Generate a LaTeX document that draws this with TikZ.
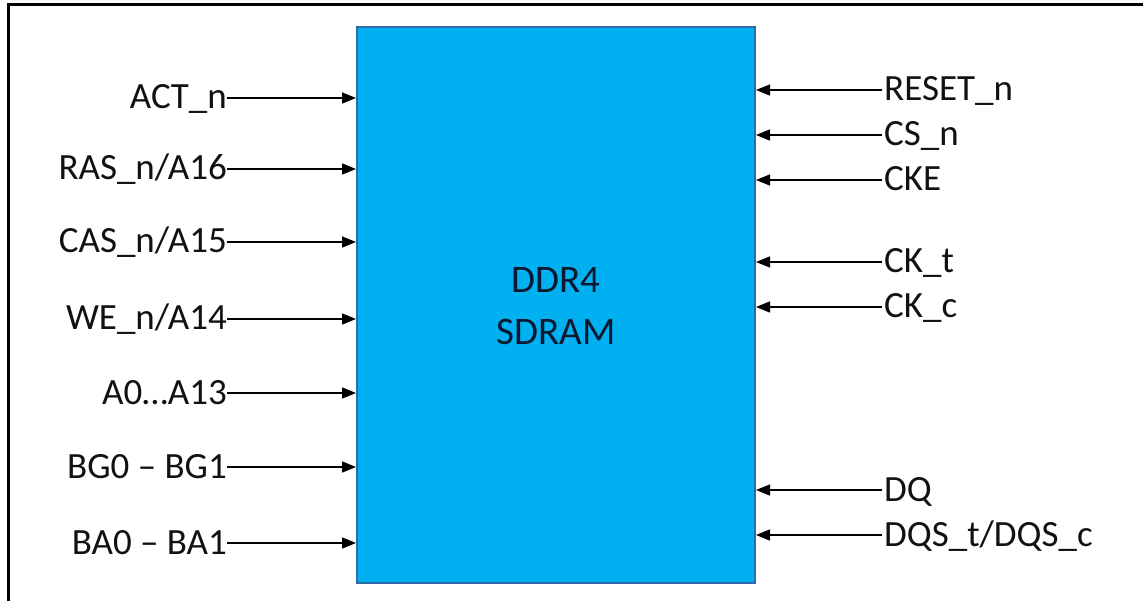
\documentclass[tikz,border=0pt]{standalone}
\usepackage{fontspec}
\setmainfont{Carlito}
\usetikzlibrary{arrows.meta}
\definecolor{chipfill}{HTML}{00B0F0}
\definecolor{chipedge}{HTML}{2E6AA8}
\definecolor{chiptext}{HTML}{0B1830}
\definecolor{lbltext}{HTML}{111111}
\tikzset{
  sig/.style={line width=1.5pt, -{Triangle[length=14pt,width=11pt]}},
  lblL/.style={inner sep=0pt, anchor=base east, text=lbltext, font=\fontsize{37}{42}\selectfont},
  lblR/.style={inner sep=0pt, anchor=base west, text=lbltext, font=\fontsize{37}{42}\selectfont},
  chipbox/.style={draw=chipedge, line width=2pt, fill=chipfill}
}
\begin{document}
\begin{tikzpicture}[x=1pt,y=-1pt]
\useasboundingbox (0,0) rectangle (1143,601);
\fill[white] (0,0) rectangle (1143,601);
% outer frame (cropped)
\draw[line width=3pt] (8,610) -- (8,5) -- (1150,5);
% chip
\node[chipbox, minimum width=398pt, minimum height=556pt, inner sep=0pt] (chip) at (556,305) {};
\node[text=chiptext, font=\fontsize{39}{52}\selectfont, align=center] (chiplbl) at (556,306) {DDR4\\SDRAM};
% left inputs
\foreach \name/\y/\txt in {a/98/{ACT\_n}, b/169/{RAS\_n/A16}, c/242/{CAS\_n/A15}, d/319/{WE\_n/A14}, e/393/{A0…A13}, f/467/{BG0 – BG1}, g/543/{BA0 – BA1}}{
  \coordinate (L\name) at (227,\y);
  \node[lblL] (tL\name) at ([yshift=-11pt]L\name) {\txt};
  \draw[sig] (L\name) -- (L\name -| chip.west);
}
% right inputs
\foreach \name/\y/\txt in {a/90/{RESET\_n}, b/135/{CS\_n}, c/180/{CKE}, d/262/{CK\_t}, e/307/{CK\_c}, f/490/{DQ}, g/535/{DQS\_t/DQS\_c}}{
  \coordinate (R\name) at (882,\y);
  \node[lblR] (tR\name) at ([yshift=-11pt,xshift=2pt]R\name) {\txt};
  \draw[sig] (R\name) -- (R\name -| chip.east);
}
\end{tikzpicture}
\end{document}
